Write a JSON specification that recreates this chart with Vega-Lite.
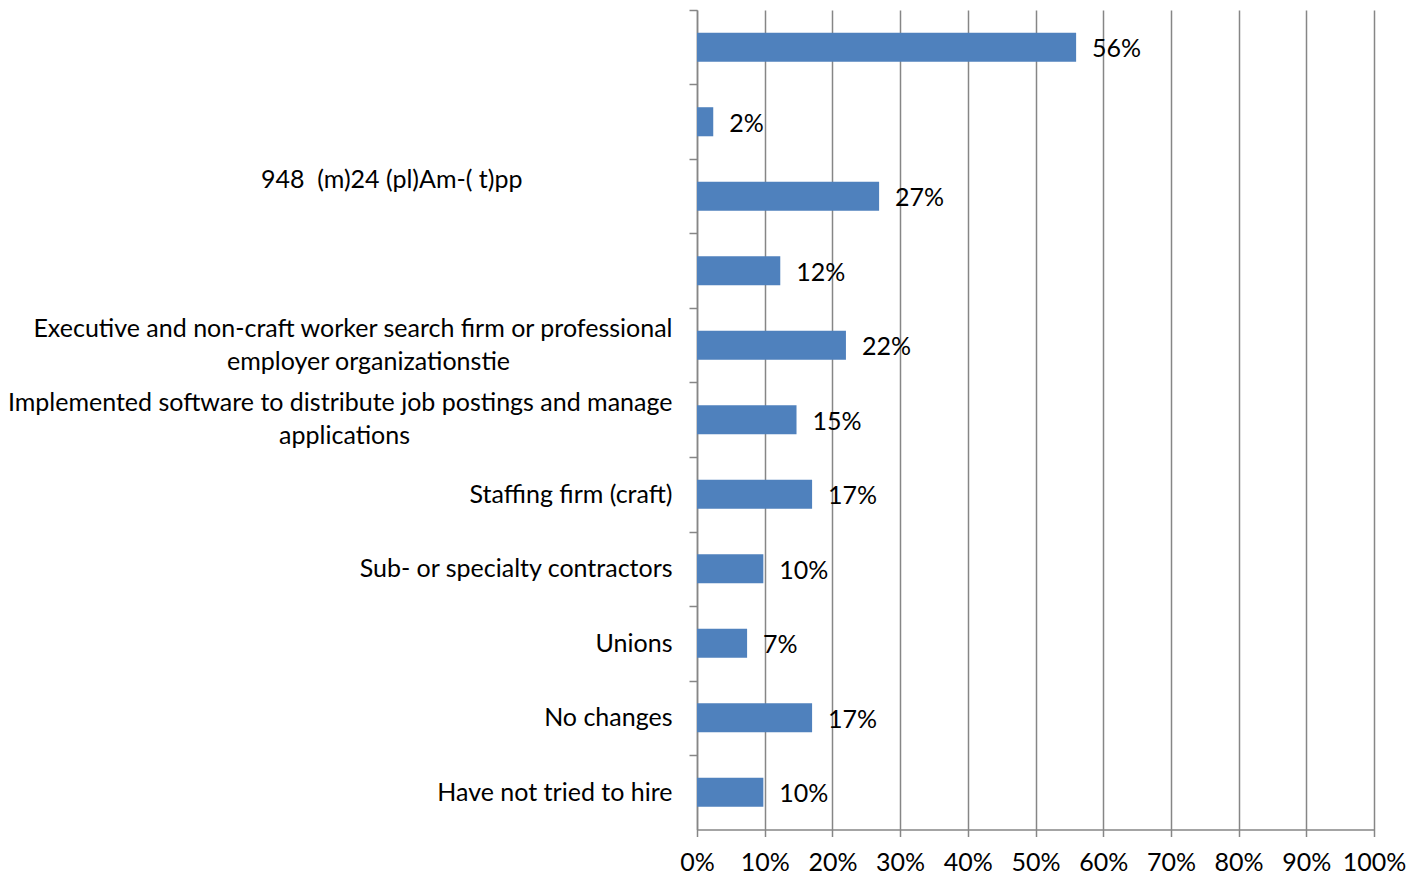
{
  "$schema": "https://vega.github.io/schema/vega-lite/v6.json",
  "autosize": {"type": "none"},
  "width": 677,
  "height": 819.5,
  "padding": {"left": 697, "top": 10, "right": 47, "bottom": 45.5},
  "background": "white",
  "config": {"view": {"stroke": null}, "font": "Lato"},
  "data": {
    "values": [
      {"label": " ", "value": 0.56},
      {"label": "  ", "value": 0.024},
      {"label": "948\u00a0 (m)24 (pl)Am-( t)pp\u2003\u2003\u2003\u2003\u2003\u2003\u2003\u2003\u200b", "value": 0.269},
      {"label": "   ", "value": 0.123},
      {"label": "Executive and non-craft worker search firm or professional|employer organizationstie\u2003\u2003\u2003\u2003\u2003\u2003\u2003\u2003\u2002\u200b", "value": 0.22},
      {"label": "Implemented software to distribute job postings and manage|applications\u2003\u2003\u2003\u2003\u2003\u2003\u2003\u2003\u2003\u2003\u2003\u2003\u2003\u2003\u200b", "value": 0.147},
      {"label": "Staffing firm (craft)", "value": 0.17},
      {"label": "Sub- or specialty contractors", "value": 0.098},
      {"label": "Unions", "value": 0.074},
      {"label": "No changes", "value": 0.17},
      {"label": "Have not tried to hire", "value": 0.098}
    ]
  },
  "encoding": {
    "y": {
      "field": "label",
      "type": "nominal",
      "sort": null,
      "title": null,
      "scale": {"paddingInner": 0.61, "paddingOuter": 0.305},
      "axis": {
        "tickOffset": -37.25,
        "labelOffset": 37.25,
        "domainColor": "#868686",
        "domainWidth": 1.5,
        "tickColor": "#868686",
        "tickWidth": 1.5,
        "tickSize": 8,
        "labelFontSize": 25,
        "labelColor": "#000000",
        "labelLimit": 0,
        "labelLineHeight": 33,
        "labelPadding": 17,
        "labelExpr": "split(datum.value, '|')",
        "labelBaseline": {
          "condition": {"test": "indexof(datum.value, '|') >= 0 || indexof(datum.value, '948') >= 0", "value": "line-bottom"},
          "value": "middle"
        }
      }
    }
  },
  "layer": [
    {
      "mark": {"type": "bar", "color": "#4F81BD"},
      "encoding": {
        "x": {
          "field": "value",
          "type": "quantitative",
          "title": null,
          "scale": {"domain": [0, 1], "nice": false},
          "axis": {
            "values": [0, 0.1, 0.2, 0.3, 0.4, 0.5, 0.6, 0.7, 0.8, 0.9, 1],
            "format": ".0%",
            "grid": true,
            "gridColor": "#868686",
            "gridWidth": 1.5,
            "domainColor": "#868686",
            "domainWidth": 1.5,
            "tickColor": "#868686",
            "tickWidth": 1.5,
            "tickSize": 7,
            "labelFontSize": 25,
            "labelColor": "#000000",
            "labelPadding": 14,
            "labelFlush": false
          }
        }
      }
    },
    {
      "mark": {"type": "text", "align": "left", "baseline": "middle", "dx": 16, "dy": 2, "fontSize": 25, "color": "#000000"},
      "encoding": {
        "x": {"field": "value", "type": "quantitative"},
        "text": {"field": "value", "type": "quantitative", "format": ".0%"}
      }
    }
  ]
}
